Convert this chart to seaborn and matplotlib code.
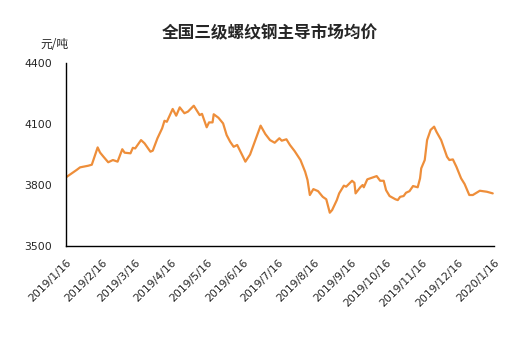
import matplotlib
matplotlib.use("Agg")
import matplotlib.pyplot as plt
import seaborn as sns
import pandas as pd

title = "全国三级螺纹钢主导市场均价"
unit_label = "元/吨"
start_date = "2019-01-16"
day_offsets = [0, 3, 9, 12, 19, 22, 27, 29, 32, 36, 40, 44, 48, 50, 55, 57, 59, 64, 67, 72,
               74, 78, 82, 84, 86, 91, 94, 97, 101, 104, 109, 114, 116, 120, 122, 125, 126, 130,
               134, 137, 140, 143, 146, 151, 153, 157, 161, 166, 170, 174, 178, 182, 184, 188,
               191, 195, 200, 204, 206, 208, 211, 215, 219, 222, 225, 227, 231, 233, 237, 239,
               244, 246, 247, 251, 253, 254, 257, 262, 265, 268, 271, 273, 276, 281, 283, 285,
               288, 290, 293, 296, 300, 302, 303, 306, 308, 311, 314, 316, 320, 325, 327, 330,
               333, 337, 340, 344, 347, 353, 359, 364]
prices = [3838, 3850, 3874, 3887, 3895, 3900, 3985, 3960, 3939, 3912, 3923, 3915, 3976, 3959,
          3956, 3983, 3980, 4021, 4005, 3964, 3969, 4030, 4079, 4116, 4111, 4174, 4141, 4182,
          4153, 4161, 4190, 4144, 4150, 4084, 4108, 4108, 4148, 4131, 4103, 4046, 4013, 3988,
          3997, 3939, 3915, 3950, 4013, 4092, 4051, 4021, 4008, 4030, 4018, 4025, 3997, 3967,
          3923, 3865, 3825, 3751, 3780, 3770, 3742, 3730, 3664, 3677, 3726, 3759, 3797, 3792,
          3821, 3811, 3759, 3789, 3800, 3789, 3828, 3838, 3844, 3821, 3821, 3775, 3746, 3730,
          3726, 3742, 3746, 3762, 3770, 3795, 3789, 3833, 3882, 3923, 4021, 4071, 4087, 4062,
          4021, 3939, 3923, 3926, 3890, 3833, 3805, 3751, 3751, 3772, 3767, 3759]
y_ticks = [3500, 3800, 4100, 4400]
x_tick_dates = ["2019-01-16", "2019-02-16", "2019-03-16", "2019-04-16", "2019-05-16",
                "2019-06-16", "2019-07-16", "2019-08-16", "2019-09-16", "2019-10-16",
                "2019-11-16", "2019-12-16", "2020-01-16"]
x_tick_labels = ["2019/1/16", "2019/2/16", "2019/3/16", "2019/4/16", "2019/5/16",
                 "2019/6/16", "2019/7/16", "2019/8/16", "2019/9/16", "2019/10/16",
                 "2019/11/16", "2019/12/16", "2020/1/16"]

df = pd.DataFrame({
    "date": pd.Timestamp(start_date) + pd.to_timedelta(day_offsets, unit="D"),
    "price": prices,
})

sns.set_style("white")
plt.rcParams["font.family"] = ["Noto Sans CJK SC", "DejaVu Sans"]

fig = plt.figure(figsize=(5.21, 3.38), dpi=100)
ax = fig.add_axes([0.1267, 0.272, 0.8213, 0.5416])
sns.lineplot(data=df, x="date", y="price", ax=ax, color="#EE8E3A", linewidth=1.6)

ax.set_xlim(pd.Timestamp(x_tick_dates[0]), pd.Timestamp(x_tick_dates[-1]))
ax.set_ylim(y_ticks[0], y_ticks[-1])
ax.set_yticks(y_ticks)
ax.set_yticklabels([str(v) for v in y_ticks], fontsize=7.8, family=["DejaVu Sans"])
ax.set_xticks([pd.Timestamp(d) for d in x_tick_dates])
ax.set_xticklabels(x_tick_labels, fontsize=7.8, family=["DejaVu Sans"], rotation=45,
                   ha="right", rotation_mode="anchor")
ax.set_xlabel("")
ax.set_ylabel("")
for s in ["top", "right"]:
    ax.spines[s].set_visible(False)
for s in ["left", "bottom"]:
    ax.spines[s].set_color("black")
    ax.spines[s].set_linewidth(1.0)
ax.tick_params(axis="both", direction="out", length=4, width=1, color="black")
ax.tick_params(axis="y", pad=6)
ax.tick_params(axis="x", pad=4)
ax.grid(False)

fig.text(0.518, 0.90, title, ha="center", va="center", fontsize=12, fontweight="bold")
fig.text(0.105, 0.868, unit_label, ha="center", va="center", fontsize=8.5)

fig.savefig("out.png", dpi=100)
